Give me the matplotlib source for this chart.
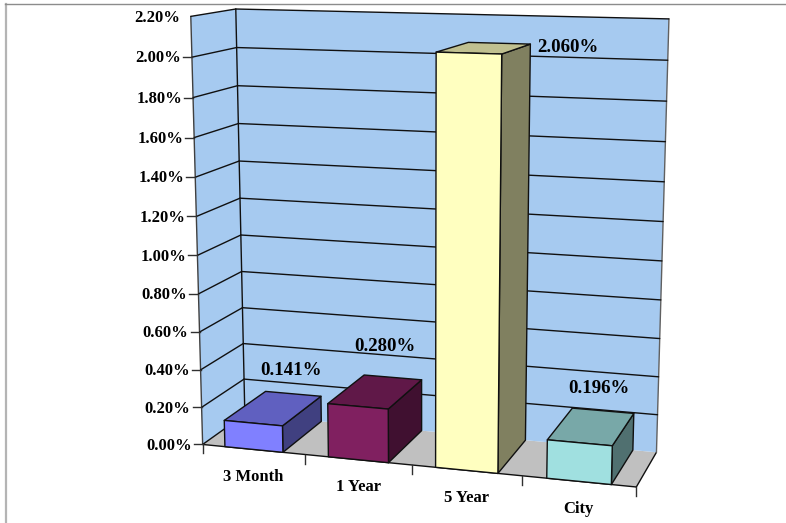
import matplotlib
matplotlib.use("Agg")
import matplotlib.pyplot as plt
import numpy as np
from matplotlib.patches import Polygon

categories = ["3 Month", "1 Year", "5 Year", "City"]
values = [0.141, 0.280, 2.060, 0.196]
value_labels = ["0.141%", "0.280%", "2.060%", "0.196%"]
label_offsets = [(-1.5, -23), (-7.5, -31), (69, 4), (-3.5, -22)]
bar_front = ["#8080FF", "#802060", "#FFFFC0", "#A0E0E0"]
bar_top = ["#6060C0", "#601848", "#C0C090", "#78A8A8"]
bar_side = ["#404080", "#401030", "#808060", "#507070"]
y_ticks = np.arange(0, 2.21, 0.2)
y_max = 2.2

plt.rcParams["font.family"] = ["Liberation Serif", "DejaVu Serif"]
plt.rcParams["font.weight"] = "bold"
plt.rcParams["font.size"] = 12

# camera: (category, value, depth) -> pixel corners of the plot box
box_3d = np.array([
    [0, 0, 0], [4, 0, 0], [0, 0, 1], [4, 0, 1],
    [0, y_max, 0], [0, y_max, 1], [4, y_max, 1],
    [1, 0, 0], [2, 0, 0], [3, 0, 0], [0, 1.0, 0],
], dtype=float)
box_px = np.array([
    [203, 444], [637, 487], [245, 415], [656, 452],
    [190.7, 17], [236, 8.5], [669, 19],
    [305, 454.5], [411.7, 465], [521.7, 476], [197, 255],
], dtype=float)


def fit_camera(pts, px):
    rows = []
    for (x, y, z), (u, v) in zip(pts, px):
        rows.append([x, y, z, 1, 0, 0, 0, 0, -u*x, -u*y, -u*z, -u])
        rows.append([0, 0, 0, 0, x, y, z, 1, -v*x, -v*y, -v*z, -v])
    return np.linalg.svd(np.array(rows))[2][-1].reshape(3, 4)


cam = fit_camera(box_3d, box_px)


def project(x, y, z):
    p = cam @ np.array([x, y, z, 1.0])
    return p[0]/p[2], p[1]/p[2]


fig = plt.figure(figsize=(7.86, 5.23), dpi=100)
ax = fig.add_axes([0, 0, 1, 1])
ax.set_xlim(0, 786)
ax.set_ylim(523, 0)
ax.axis("off")


def face(pts, color, z=2, ec="#101010", lw=1.0):
    ax.add_patch(Polygon([project(*p) for p in pts], closed=True, fc=color,
                         ec=ec, lw=lw, zorder=z, joinstyle="round"))


def line3d(a, b, color="#101010", lw=1.0, z=3):
    (x0, y0), (x1, y1) = project(*a), project(*b)
    ax.plot([x0, x1], [y0, y1], color=color, lw=lw, zorder=z,
            solid_capstyle="round")


# outer frame
ax.plot([6, 6], [3.5, 523], color="#b4b4b4", lw=1.6, zorder=1)
ax.plot([5, 786], [3.5, 3.5], color="#8c8c8c", lw=1.0, zorder=1)

# walls and floor
wall = "#A6CAF0"
face([(0, 0, 0), (4, 0, 0), (4, 0, 1), (0, 0, 1)], "#C0C0C0", ec="none")
face([(0, 0, 0), (0, y_max, 0), (0, y_max, 1), (0, 0, 1)], wall, ec="none")
face([(0, 0, 1), (0, y_max, 1), (4, y_max, 1), (4, 0, 1)], wall, ec="none")

line3d((0, 0, 0), (4, 0, 0))
line3d((4, 0, 0), (4, 0, 1))
line3d((0, 0, 0), (0, y_max, 0), color="#404040")
line3d((0, 0, 1), (0, y_max, 1))
line3d((4, 0, 1), (4, y_max, 1), color="#606060")

for t in y_ticks:
    line3d((0, t, 0), (0, t, 1))
    if t > 0.01:
        line3d((0, t, 1), (4, t, 1))
    px, py = project(0, t, 0)
    if t < y_max - 0.01:
        ax.plot([px-9, px], [py, py], color="#303030", lw=1.0, zorder=3)
    ax.text(px-11, py+1.2, f"{t:.2f}%", ha="right", va="center", zorder=5)

for i in range(5):
    px, py = project(i, 0, 0)
    ax.plot([px, px], [py, py+9], color="#303030", lw=1.0, zorder=3)

# bars, back to front
for i, v in enumerate(values):
    x0, x1 = i + 0.22, i + 0.785
    face([(x1, 0, 0), (x1, v, 0), (x1, v, 1), (x1, 0, 1)], bar_side[i], z=4)
    face([(x0, v, 0), (x1, v, 0), (x1, v, 1), (x0, v, 1)], bar_top[i], z=4)
    face([(x0, 0, 0), (x1, 0, 0), (x1, v, 0), (x0, v, 0)], bar_front[i], z=4)

    lx, ly = project(i + 0.5, v, 1)
    dx, dy = label_offsets[i]
    ax.text(lx+dx, ly+dy, value_labels[i], ha="center", va="center",
            zorder=6, fontsize=13.6)

    cx, cy = project(i + 0.5, 0, 0)
    ax.text(cx, cy+27.5, categories[i], ha="center", va="center", zorder=5)

fig.savefig("out.png", dpi=100)
